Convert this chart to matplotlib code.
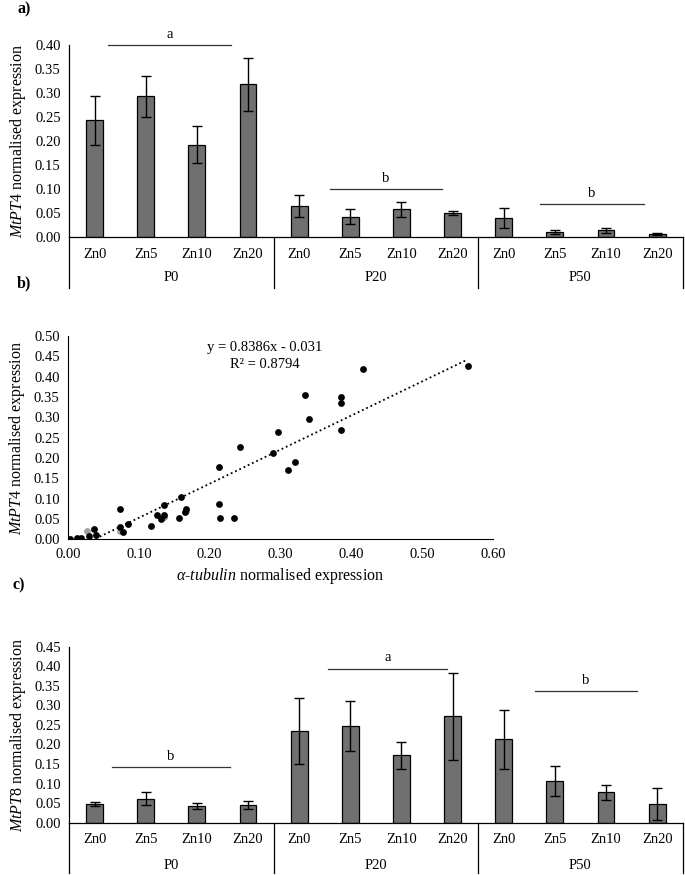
import matplotlib
matplotlib.use("Agg")
import matplotlib.pyplot as plt
import matplotlib.transforms as mtransforms
import numpy as np

plt.rcParams['font.family'] = ['Liberation Serif', 'DejaVu Serif']
plt.rcParams['mathtext.fontset'] = 'custom'
plt.rcParams['mathtext.rm'] = 'Liberation Serif'
plt.rcParams['mathtext.it'] = 'Liberation Serif:italic'

# ---------------- data ----------------
zn_labels = ['Zn0', 'Zn5', 'Zn10', 'Zn20'] * 3
p_labels = ['P0', 'P20', 'P50']

pt4_vals = [0.243, 0.293, 0.192, 0.318, 0.064, 0.042, 0.057, 0.050, 0.039, 0.010, 0.013, 0.005]
pt4_err = [0.051, 0.043, 0.038, 0.055, 0.023, 0.016, 0.016, 0.004, 0.020, 0.005, 0.006, 0.002]
pt4_sig_letters = ['a', 'b', 'b']
pt4_sig_spans = [(0.26, 2.66), (4.6, 6.8), (8.7, 10.75)]
pt4_sig_levels = [0.40, 0.10, 0.068]

pt8_vals = [0.048, 0.061, 0.042, 0.045, 0.235, 0.247, 0.172, 0.272, 0.213, 0.106, 0.078, 0.048]
pt8_err = [0.005, 0.017, 0.008, 0.011, 0.084, 0.063, 0.035, 0.111, 0.076, 0.038, 0.019, 0.041]
pt8_sig_letters = ['b', 'a', 'b']
pt8_sig_spans = [(0.34, 2.65), (4.57, 6.89), (8.62, 10.6)]
pt8_sig_levels = [0.142, 0.394, 0.336]

tub_x = [0.003, 0.012, 0.019, 0.029, 0.036, 0.040, 0.073, 0.073, 0.078, 0.084,
         0.117, 0.125, 0.131, 0.136, 0.136, 0.156, 0.159, 0.165, 0.167, 0.213,
         0.213, 0.214, 0.235, 0.243, 0.289, 0.296, 0.311, 0.320, 0.335, 0.340,
         0.385, 0.385, 0.385, 0.416, 0.564]
pt4_y = [0.000, 0.002, 0.004, 0.008, 0.025, 0.010, 0.074, 0.031, 0.019, 0.038,
         0.033, 0.060, 0.050, 0.059, 0.085, 0.052, 0.103, 0.066, 0.075, 0.177,
         0.087, 0.052, 0.052, 0.226, 0.212, 0.265, 0.171, 0.190, 0.354, 0.295,
         0.351, 0.335, 0.269, 0.420, 0.425]
grey_x = [0.001, 0.027, 0.074, 0.136, 0.167]
grey_y = [0.000, 0.021, 0.021, 0.055, 0.070]
fit_slope = 0.8386
fit_intercept = -0.031

BAR_COLOR = '#707070'
TICK_FS = 10.5
LABEL_FS = 11.5
W, H = 685, 875
fig = plt.figure(figsize=(W / 100, H / 100), dpi=100)


def ax_rect(left, top, right, bottom):
    return [left / W, 1 - bottom / H, (right - left) / W, (bottom - top) / H]


def bar_panel(rect, vals, errs, ymax, step, ylabel, letters, spans, levels,
              zn_off, p_off, sep_off):
    ax = fig.add_axes(rect)
    x = np.arange(len(vals))
    ax.bar(x, vals, width=0.33, color=BAR_COLOR, edgecolor='black', linewidth=0.9, zorder=2)
    ax.errorbar(x, vals, yerr=errs, fmt='none', ecolor='black', elinewidth=1.0,
                capsize=3.3, capthick=1.0, zorder=3)
    ax.set_xlim(-0.5, len(vals) - 0.5)
    ax.set_ylim(0, ymax)
    yt = np.round(np.arange(0, ymax + 1e-9, step), 2)
    ax.set_yticks(yt)
    ax.set_yticklabels([f'{v:.2f}' for v in yt], fontsize=TICK_FS)
    ax.tick_params(axis='y', length=0, pad=6)
    ax.set_xticks([])
    for s in ['top', 'right']:
        ax.spines[s].set_visible(False)
    ax.spines['left'].set_linewidth(0.9)
    ax.spines['bottom'].set_linewidth(0.9)
    trans = mtransforms.blended_transform_factory(ax.transData, ax.transAxes)
    for i, lab in enumerate(zn_labels):
        ax.text(i, zn_off, lab, transform=trans, ha='center', va='center', fontsize=TICK_FS)
    for g, lab in enumerate(p_labels):
        ax.text(4 * g + 1.5, p_off, lab, transform=trans, ha='center', va='center', fontsize=TICK_FS)
    for sx in [-0.5, 3.5, 7.5, 11.5]:
        ax.plot([sx, sx], [0, sep_off], transform=trans, color='black', lw=0.9, clip_on=False)
    for lab, (x0, x1), lev in zip(letters, spans, levels):
        ax.plot([x0, x1], [lev, lev], color='#333333', lw=0.9, clip_on=False)
        ax.annotate(lab, xy=((x0 + x1) / 2, lev), xytext=(0, 3), textcoords='offset points',
                    ha='center', va='bottom', fontsize=TICK_FS, annotation_clip=False)
    ax.set_ylabel(ylabel, fontsize=LABEL_FS, labelpad=5)
    return ax


# panel a
bar_panel(ax_rect(69, 45, 682.7, 236.7), pt4_vals, pt4_err, 0.40, 0.05,
          r'$\mathit{MtPT4}$ normalised expression', pt4_sig_letters, pt4_sig_spans,
          pt4_sig_levels, -0.095, -0.215, -0.268)

# panel c
bar_panel(ax_rect(69, 646.7, 682.7, 822.7), pt8_vals, pt8_err, 0.45, 0.05,
          r'$\mathit{MtPT8}$ normalised expression', pt8_sig_letters, pt8_sig_spans,
          pt8_sig_levels, -0.098, -0.246, -0.286)

# panel b
axb = fig.add_axes(ax_rect(68, 336, 493, 539.3))
xs = np.array([min(tub_x), max(tub_x)])
axb.plot(xs, fit_slope * xs + fit_intercept, linestyle=(0, (1, 1.6)), color='black', lw=1.3, zorder=1)
axb.scatter(grey_x, grey_y, s=24, color='#a0a0a0', zorder=2, linewidths=0)
axb.scatter(tub_x, pt4_y, s=24, color='black', zorder=3, linewidths=0)
axb.set_xlim(0, 0.6)
axb.set_ylim(0, 0.5)
xt = np.round(np.arange(0, 0.6001, 0.1), 2)
ytb = np.round(np.arange(0, 0.5001, 0.05), 2)
axb.set_xticks(xt)
axb.set_xticklabels([f'{v:.2f}' for v in xt], fontsize=TICK_FS)
axb.set_yticks(ytb)
axb.set_yticklabels([f'{v:.2f}' for v in ytb], fontsize=TICK_FS)
axb.tick_params(length=0, pad=6)
for s in ['top', 'right']:
    axb.spines[s].set_visible(False)
axb.text(0.278, 0.471, 'y = 0.8386x - 0.031', ha='center', va='center', fontsize=TICK_FS)
axb.text(0.278, 0.430, 'R² = 0.8794', ha='center', va='center', fontsize=TICK_FS)
axb.set_xlabel(r'$\mathit{\alpha}$-$\mathit{tubulin}$ normalised expression', fontsize=LABEL_FS, labelpad=4)
axb.set_ylabel(r'$\mathit{MtPT4}$ normalised expression', fontsize=LABEL_FS, labelpad=5)

# panel letters
fig.text(18 / W, 1 - 9 / H, 'a)', fontsize=11.5, fontweight='bold', ha='left', va='center')
fig.text(17 / W, 1 - 283 / H, 'b)', fontsize=11.5, fontweight='bold', ha='left', va='center')
fig.text(12 / W, 1 - 585 / H, 'c)', fontsize=11.5, fontweight='bold', ha='left', va='center')

fig.savefig('out.png', dpi=100)
